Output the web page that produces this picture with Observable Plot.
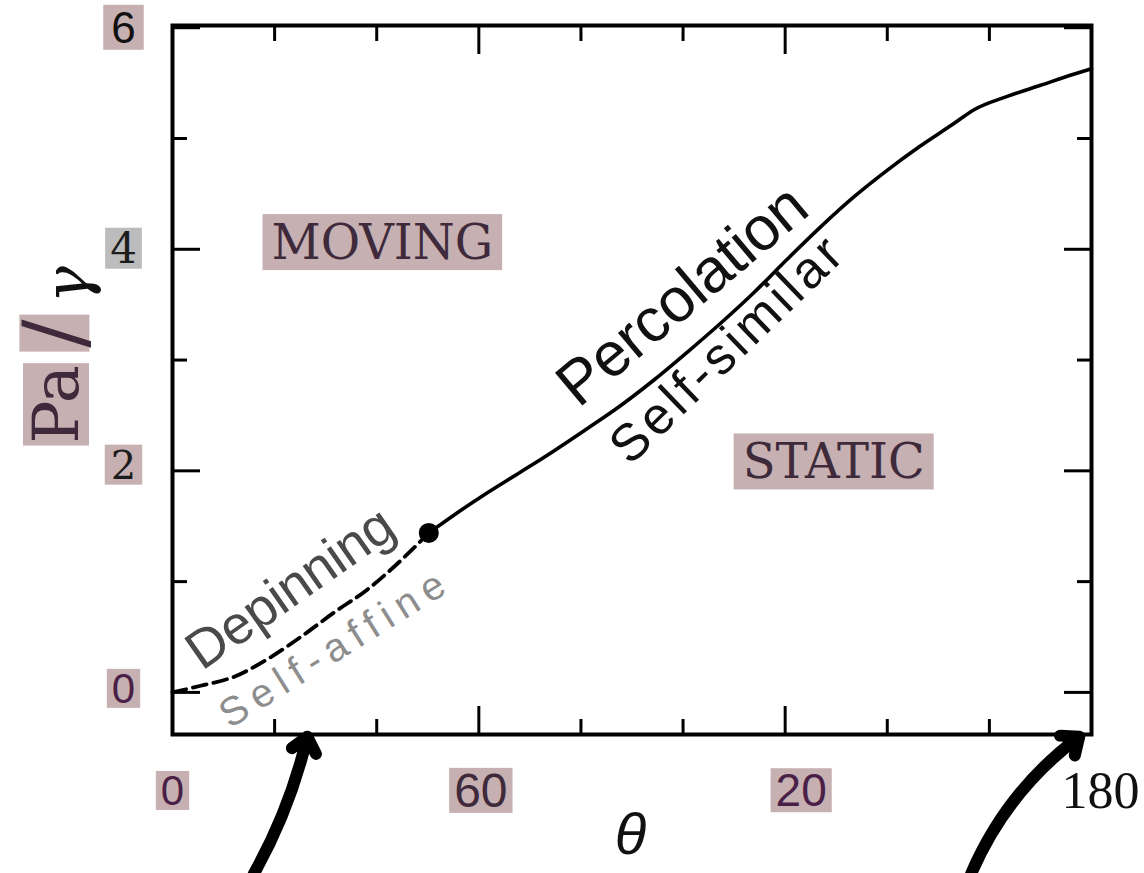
<!DOCTYPE html>
<html>
<head>
<meta charset="utf-8">
<script src="https://cdn.jsdelivr.net/npm/d3@7"></script>
<script src="https://cdn.jsdelivr.net/npm/@observablehq/plot@0.6"></script>
<style>
  html, body { margin: 0; padding: 0; background: #ffffff; }
  #chart { width: 1144px; height: 873px; }
</style>
</head>
<body>
<div id="chart"></div>
<script>
// ---------------- data ----------------
const thetaTicksMajor = [0, 60, 120, 180];
const thetaTicksMinor = [20, 40, 80, 100, 140, 160];
const pTicksMajor = [0, 2, 4, 6];
const pTicksMinor = [1, 3, 5];
const thetaTickLabels = ["0", "60", "20", "180"];
const pTickLabels = ["0", "2", "4", "6"];

// dashed branch (depinning, self-affine)
const depinningTheta = [0, 5.5, 12, 18.6, 25.1, 31.6, 38.2, 44.7, 50.2];
const depinningP     = [0, 0.06, 0.14, 0.30, 0.50, 0.72, 0.93, 1.19, 1.44];
// solid branch (percolation, self-similar)
const percolationTheta = [50.2, 55.1, 61.6, 68.2, 74.7, 81.2, 87.8, 94.3, 100.8, 107.3, 113.9, 120.4, 126.9, 133.4, 139.9, 146.4, 152.9, 157.0, 163.5, 170.0, 176.5, 180];
const percolationP     = [1.44, 1.60, 1.80, 1.99, 2.18, 2.38, 2.59, 2.82, 3.07, 3.33, 3.61, 3.91, 4.20, 4.47, 4.71, 4.93, 5.13, 5.26, 5.38, 5.48, 5.58, 5.63];
// crossover point
const crossoverTheta = [50.2];
const crossoverP = [1.44];

const regionNames = ["MOVING", "STATIC"];
const noteTexts = ["Percolation", "Self-similar", "Depinning", "Self-affine"];

// ---------------- layout / style (not data) ----------------
const pink = "#c6b0b1", grayBg = "#bcbcbc", purple = "#4a1f48", plum = "#3e2a3b";
const SANS = "Liberation Sans, Arial, Helvetica, sans-serif";
const SERIF = "DejaVu Serif, Liberation Serif, serif";
const LSERIF = "Liberation Serif, Times New Roman, serif";
const HAND = "Liberation Sans Narrow, Liberation Sans, Arial, sans-serif";

const regionPlacement = [{theta: 41.1, p: 4.05}, {theta: 129.5, p: 2.07}];
const notePlacement = [
  {theta: 79.5, p: 2.56, rotate: -40, size: 62, fill: "#111111", length: 305},
  {theta: 89.6, p: 2.04, rotate: -44, size: 52, fill: "#111111", length: 300},
  {theta: 5.8,  p: 0.19, rotate: -35, size: 54, fill: "#4a4a4a", length: 240},
  {theta: 11.2, p: -0.33, rotate: -32, size: 40, fill: "#8d8d8d", length: 258}
];
const pointerArrows = [
  {theta1: 15.9, p1: -1.64, theta2: 26.4, p2: -0.40, bend: -8},
  {theta1: 156.4, p1: -1.64, theta2: 177.6, p2: -0.40, bend: 15}
];
const yLabelStyles = [
  {font: SANS,  size: 42, fill: purple,   dy: -3},
  {font: SERIF, size: 40, fill: "#1d1d1d", dy: -5},
  {font: SERIF, size: 42, fill: "#1d1d1d", dy: 0},
  {font: SANS,  size: 44, fill: "#111111", dy: 1}
];
const xLabelStyles = [
  {font: SANS,   size: 42, fill: purple,   dx: 0},
  {font: SANS,   size: 48, fill: plum,     dx: 2},
  {font: SANS,   size: 46, fill: purple,   dx: 16},
  {font: LSERIF, size: 52, fill: "#111111", dx: 9}
];
const backgrounds = {
  "0": {fill: pink, px: 5, py: -4}, "2": {fill: pink, px: 6, py: -3}, "4": {fill: grayBg, px: 5, py: -4},
  "6": {fill: pink, px: 8, py: -2}, "60": {fill: pink, px: 5, py: -4}, "20": {fill: pink, px: 5, py: -4},
  "MOVING": {fill: pink, px: 9, py: 0}, "STATIC": {fill: pink, px: 9, py: 0},
  "Pa": {fill: pink, px: 2, py: -4}, "/": {fill: pink, px: 4, py: -14}
};

// ---------------- tables built from the arrays ----------------
const depinning = depinningTheta.map((t, i) => ({theta: t, p: depinningP[i]}));
const percolation = percolationTheta.map((t, i) => ({theta: t, p: percolationP[i]}));
const crossover = crossoverTheta.map((t, i) => ({theta: t, p: crossoverP[i]}));
const regions = regionNames.map((n, i) => ({name: n, ...regionPlacement[i]}));
const notes = noteTexts.map((n, i) => ({text: n, ...notePlacement[i]}));

const blank = () => "";
const marks = [];

// ticks (inward) on all four sides
for (const anchor of ["bottom", "top"]) {
  marks.push(Plot.axisX(thetaTicksMajor, {anchor, tickSize: -28, strokeWidth: 3, tickFormat: blank, label: null}));
  marks.push(Plot.axisX(thetaTicksMinor, {anchor, tickSize: -15, strokeWidth: 3, tickFormat: blank, label: null}));
}
for (const anchor of ["left", "right"]) {
  marks.push(Plot.axisY(pTicksMajor, {anchor, tickSize: -28, strokeWidth: 3, tickFormat: blank, label: null}));
  marks.push(Plot.axisY(pTicksMinor, {anchor, tickSize: -15, strokeWidth: 3, tickFormat: blank, label: null}));
}
marks.push(Plot.frame({stroke: "black", strokeWidth: 4}));

// curves
marks.push(Plot.line(depinning, {x: "theta", y: "p", stroke: "black", strokeWidth: 3.8, strokeDasharray: "14,7", curve: "monotone-x"}));
marks.push(Plot.line(percolation, {x: "theta", y: "p", stroke: "black", strokeWidth: 3.6, curve: "monotone-x"}));
marks.push(Plot.dot(crossover, {x: "theta", y: "p", r: 10, fill: "black", stroke: "none"}));

// tick labels
pTicksMajor.forEach((v, i) => {
  const s = yLabelStyles[i];
  marks.push(Plot.text([v], {y: d => d, text: () => pTickLabels[i], frameAnchor: "left", dx: -49, dy: s.dy,
    textAnchor: "middle", lineAnchor: "middle", fontFamily: s.font, fontSize: s.size, fill: s.fill}));
});
thetaTicksMajor.forEach((v, i) => {
  const s = xLabelStyles[i];
  marks.push(Plot.text([v], {x: d => d, text: () => thetaTickLabels[i], frameAnchor: "bottom", dy: 57, dx: s.dx,
    textAnchor: "middle", lineAnchor: "middle", fontFamily: s.font, fontSize: s.size, fill: s.fill}));
});

// axis titles
marks.push(Plot.text([89.7], {x: d => d, text: () => "θ", frameAnchor: "bottom", dy: 101, textAnchor: "middle", lineAnchor: "middle",
  fontFamily: SANS, fontStyle: "italic", fontSize: 58, fill: "#111"}));
marks.push(Plot.text([2.6], {y: d => d, text: () => "Pa", frameAnchor: "left", dx: -115, rotate: -90,
  textAnchor: "middle", lineAnchor: "middle", fontFamily: SERIF, fontSize: 64, fill: plum}));
marks.push(Plot.text([3.24], {y: d => d, text: () => "/", frameAnchor: "left", dx: -116, rotate: -90,
  textAnchor: "middle", lineAnchor: "middle", fontFamily: SERIF, fontSize: 84, fill: plum}));
marks.push(Plot.text([3.68], {y: d => d, text: () => "γ", frameAnchor: "left", dx: -104, rotate: -90,
  textAnchor: "middle", lineAnchor: "middle", fontFamily: SERIF, fontStyle: "italic", fontSize: 62, fill: "#111"}));

// region labels
marks.push(Plot.text(regions, {x: "theta", y: "p", text: "name", textAnchor: "middle", lineAnchor: "middle",
  fontFamily: SERIF, fontSize: 48, fill: plum}));

// handwritten notes
notes.forEach(n => {
  marks.push(Plot.text([n], {x: "theta", y: "p", text: "text", rotate: n.rotate, textAnchor: "start", lineAnchor: "bottom",
    fontFamily: HAND, fontSize: n.size, fill: n.fill}));
});

// hand-drawn pointer arrows below the axis
pointerArrows.forEach(a => {
  marks.push(Plot.arrow([a], {x1: "theta1", y1: "p1", x2: "theta2", y2: "p2", bend: a.bend,
    stroke: "black", strokeWidth: 12, headLength: 2.4, headAngle: 80, strokeLinecap: "round", strokeLinejoin: "round"}));
});

const chart = Plot.plot({
  width: 1144, height: 873,
  marginLeft: 172, marginRight: 53, marginTop: 25, marginBottom: 139,
  x: {domain: [0, 180], label: null},
  y: {domain: [-0.38, 6.02], label: null},
  style: {background: "white", overflow: "visible"},
  marks
});
document.getElementById("chart").append(chart);

// ---------- post styling: highlighter boxes & hand-lettering spacing ----------
const noteLength = Object.fromEntries(notes.map(n => [n.text, n.length]));
d3.select(chart).selectAll("text").each(function () {
  const t = this.textContent;
  if (noteLength[t]) {
    this.setAttribute("textLength", noteLength[t]);
    this.setAttribute("lengthAdjust", "spacing");
  }
  const bg = backgrounds[t];
  if (bg) {
    const bb = this.getBBox();
    const r = document.createElementNS("http://www.w3.org/2000/svg", "rect");
    r.setAttribute("x", bb.x - bg.px);
    r.setAttribute("y", bb.y - bg.py);
    r.setAttribute("width", bb.width + 2 * bg.px);
    r.setAttribute("height", bb.height + 2 * bg.py);
    r.setAttribute("fill", bg.fill);
    r.setAttribute("stroke", "none");
    const tr = this.getAttribute("transform");
    if (tr) r.setAttribute("transform", tr);
    this.parentNode.insertBefore(r, this);
  }
});
</script>
</body>
</html>
